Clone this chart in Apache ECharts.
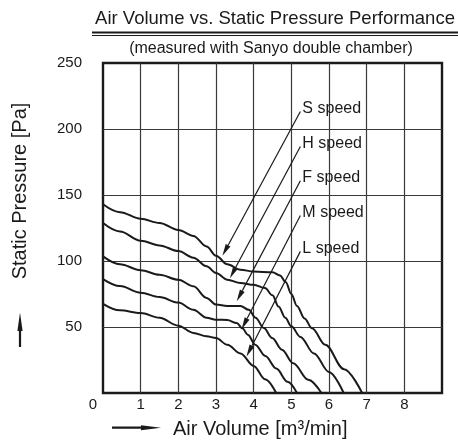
<!DOCTYPE html>
<html><head><meta charset="utf-8">
<script src="https://cdn.jsdelivr.net/npm/echarts@6/dist/echarts.min.js"></script>
<style>html,body{margin:0;padding:0;background:#fff}#c{width:458px;height:442px}</style>
</head><body><div id="c"></div>
<script>
// ---- data ----
const xTicks = [0, 1, 2, 3, 4, 5, 6, 7, 8];
const yTicks = [0, 50, 100, 150, 200, 250];
const speedNames = ['S speed', 'H speed', 'F speed', 'M speed', 'L speed'];

const sSpeed = [[0,143],[0.45,137],[1,132],[1.5,128.8],[2,123.5],[2.4,119],[2.75,111],[3,104],[3.3,97.5],[3.65,93.4],[4,92],[4.5,91.5],[4.7,89],[4.85,84],[5,75],[5.15,66],[5.35,56.5],[5.55,49],[5.9,36.5],[6.4,18],[6.88,0]];
const hSpeed = [[0,128.8],[0.45,122.4],[1,115.4],[1.5,111.8],[2,107.5],[2.4,102.5],[2.75,96],[3,91],[3.3,85.8],[3.65,83.3],[4,82],[4.3,79.5],[4.5,74],[4.66,65.5],[4.84,57],[5,50.5],[5.24,42.5],[5.6,30],[6.0,16],[6.39,0]];
const fSpeed = [[0,103.5],[0.45,97.5],[1,93],[1.5,89.6],[2,85.8],[2.4,80.8],[2.75,72],[3,67],[3.3,66],[3.65,66],[3.87,63],[4.05,57],[4.27,49.2],[4.49,41.7],[4.75,32.8],[5.05,22.5],[5.45,10],[5.8,0]];
const mSpeed = [[0,86.3],[0.45,81],[1,76],[1.5,72.7],[2,68.5],[2.4,63],[2.75,57],[3,55.5],[3.3,55.3],[3.55,53],[3.7,49],[3.85,44],[4.04,36.6],[4.31,28],[4.6,18.5],[4.9,8.5],[5.15,0]];
const lSpeed = [[0,67.6],[0.45,62.6],[1,60.6],[1.5,57],[2,51],[2.4,45.5],[2.75,43],[3,41.7],[3.3,36.5],[3.65,30],[4,20.5],[4.3,10.5],[4.6,0]];

// leader arrows: label anchor (x,y) -> arrow tip (x,y)
const labelAnchors = [[5.24,213.3],[5.24,186.8],[5.24,160.8],[5.24,134.5],[5.24,107.3]];
const arrowTips = [[3.17,104],[3.37,87],[3.55,69.5],[3.68,48.3],[3.81,27.7]];

// ---- chart ----
const chart = echarts.init(document.getElementById('c'));
const INK = '#1a1a1a';
const FONT = 'Liberation Sans, Arial, sans-serif';
const NARROW = 'Liberation Sans Narrow, Liberation Sans, Arial, sans-serif';

const curveSeries = [sSpeed, hSpeed, fSpeed, mSpeed, lSpeed].map((d, i) => ({
  name: speedNames[i], type: 'line', data: d, smooth: 0.35, smoothMonotone: 'x',
  showSymbol: false, symbol: 'none', silent: true,
  lineStyle: { color: INK, width: 2 }, z: 3
}));

const leaderData = labelAnchors.map((a, i) => [a[0], a[1], arrowTips[i][0], arrowTips[i][1]]);

const leaderSeries = {
  type: 'custom', data: leaderData, z: 4, silent: true,
  renderItem: function (params, api) {
    const p1 = api.coord([api.value(0), api.value(1)]);
    const p2 = api.coord([api.value(2), api.value(3)]);
    const dx = p2[0] - p1[0], dy = p2[1] - p1[1];
    const len = Math.sqrt(dx * dx + dy * dy);
    const ux = dx / len, uy = dy / len;
    const hl = 12, hw = 2.7;
    const bx = p2[0] - ux * hl, by = p2[1] - uy * hl;
    const nx = -uy, ny = ux;
    return {
      type: 'group', children: [
        { type: 'line', shape: { x1: p1[0], y1: p1[1], x2: bx, y2: by }, style: { stroke: INK, lineWidth: 1.2 } },
        { type: 'polygon', shape: { points: [[p2[0], p2[1]], [bx + nx * hw, by + ny * hw], [bx - nx * hw, by - ny * hw]] }, style: { fill: INK } },
        { type: 'text', x: p1[0] + 2, y: p1[1] - 3, style: { text: speedNames[params.dataIndex], fill: INK, fontSize: 16, fontFamily: FONT, align: 'left', verticalAlign: 'middle' } }
      ]
    };
  }
};

chart.setOption({
  animation: false,
  backgroundColor: '#fff',
  grid: { left: 103, right: 16, top: 63, bottom: 49, show: true, borderColor: INK, borderWidth: 2.4, backgroundColor: 'transparent' },
  xAxis: {
    type: 'value', min: 0, max: 9, interval: 1,
    axisLine: { show: false }, axisTick: { show: false },
    splitLine: { show: true, showMinLine: false, showMaxLine: false, lineStyle: { color: '#3a3a3a', width: 1.2 } },
    axisLabel: {
      margin: 4, color: INK, fontSize: 15, fontFamily: NARROW,
      formatter: v => (v === 0 ? '{z|' + xTicks[0] + '}' : (xTicks.indexOf(v) >= 0 ? String(v) : '')),
      rich: { z: { padding: [0, 20, 0, 0], fontSize: 15, fontFamily: NARROW, color: INK } }
    }
  },
  yAxis: {
    type: 'value', min: 0, max: 250, interval: 50,
    axisLine: { show: false }, axisTick: { show: false },
    splitLine: { show: true, showMinLine: false, showMaxLine: false, lineStyle: { color: '#3a3a3a', width: 1.2 } },
    axisLabel: {
      margin: 21, color: INK, fontSize: 15, fontFamily: NARROW,
      formatter: v => (v === 0 ? '' : (yTicks.indexOf(v) >= 0 ? String(v) : ''))
    }
  },
  graphic: [
    { type: 'text', x: 275, y: 19, style: { text: 'Air Volume vs. Static Pressure Performance', fill: INK, fontSize: 18.5, fontFamily: FONT, align: 'center', verticalAlign: 'middle' } },
    { type: 'rect', shape: { x: 92, y: 31.5, width: 366, height: 2 }, style: { fill: INK } },
    { type: 'rect', shape: { x: 92, y: 35, width: 366, height: 1 }, style: { fill: INK } },
    { type: 'text', x: 271, y: 49, style: { text: '(measured with Sanyo double chamber)', fill: INK, fontSize: 16, fontFamily: FONT, align: 'center', verticalAlign: 'middle' } },
    { type: 'text', x: 173, y: 429, style: { text: 'Air Volume [m³/min]', fill: INK, fontSize: 20, fontFamily: FONT, align: 'left', verticalAlign: 'middle' } },
    { type: 'line', shape: { x1: 112, y1: 427.7, x2: 146, y2: 427.7 }, style: { stroke: INK, lineWidth: 2.2 } },
    { type: 'polygon', shape: { points: [[161, 427.7], [141, 425.2], [141, 430.2]] }, style: { fill: INK } },
    { type: 'text', x: 20, y: 191, rotation: Math.PI / 2, style: { text: 'Static Pressure [Pa]', fill: INK, fontSize: 20, fontFamily: FONT, align: 'center', verticalAlign: 'middle' } },
    { type: 'line', shape: { x1: 20, y1: 347, x2: 20, y2: 328 }, style: { stroke: INK, lineWidth: 2.2 } },
    { type: 'polygon', shape: { points: [[20, 312.5], [17.4, 331], [22.6, 331]] }, style: { fill: INK } }
  ],
  series: curveSeries.concat([leaderSeries])
});
</script>
</body></html>
